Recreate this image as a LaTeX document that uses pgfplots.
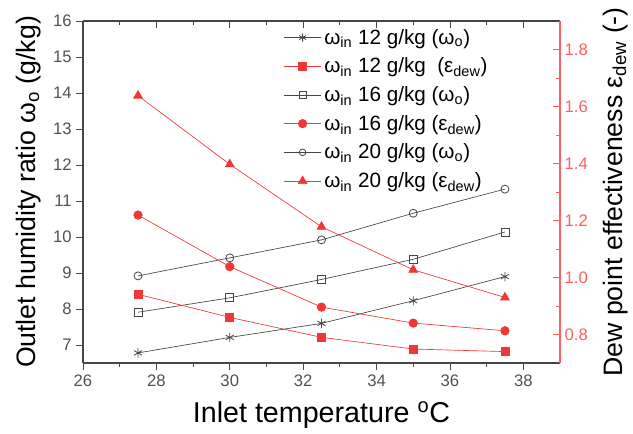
\documentclass[border=0pt]{standalone}
\usepackage{pgfplots}
\pgfplotsset{compat=1.18}
\usepackage{fontspec}
\setmainfont{Liberation Sans}
\definecolor{myred}{RGB}{240,55,55}
\definecolor{axred}{RGB}{255,95,95}
\definecolor{dgray}{RGB}{70,70,70}
\definecolor{tgray}{RGB}{85,80,80}
\begin{document}
\begin{tikzpicture}
\pgfplotsset{
  common/.style={
    width=357.75pt, height=256.5pt, scale only axis,
    xmin=26, xmax=39, xtick={26,28,...,38}, minor x tick num=1,
    /pgf/number format/assume math mode=true,
    tick label style={font=\fontsize{12.5}{14}\selectfont},
    label style={font=\fontsize{20}{23}\selectfont},
    major tick length=5pt, minor tick length=3pt,
  },
}
\begin{axis}[common, name=ax,
  axis x line*=bottom, axis y line*=left,
  ymin=6.5, ymax=16, ytick={7,8,...,16},
  tick align=outside,
  axis line style={dgray, line width=0.8pt},
  tick style={dgray, line width=0.6pt},
  ticklabel style={text=tgray},
  xlabel={Inlet temperature \textsuperscript{o}C},
  ylabel={Outlet humidity ratio ω\textsubscript{o} (g/kg)},
  xlabel style={at={(axis description cs:0.5,-0.175)}, anchor=base, font=\fontsize{21.5}{24}\selectfont},
  ylabel style={at={(axis description cs:-0.1006,0.5)}, anchor=base, rotate=0},
]
\addplot[dgray, line width=0.5pt, mark=asterisk, mark size=3.5pt, mark options={line width=0.6pt}]
  coordinates {(27.5,6.78) (30,7.21) (32.5,7.60) (35,8.23) (37.5,8.90)};
\addplot[dgray, line width=0.5pt, mark=square, mark size=3pt, mark options={fill=white, line width=0.6pt}]
  coordinates {(27.5,7.91) (30,8.31) (32.5,8.82) (35,9.38) (37.5,10.14)};
\addplot[dgray, line width=0.5pt, mark=o, mark size=3pt, mark options={fill=white, line width=0.6pt}]
  coordinates {(27.5,8.92) (30,9.42) (32.5,9.92) (35,10.66) (37.5,11.33)};
\end{axis}
\begin{axis}[common,
  axis x line*=top, axis y line*=right,
  ymin=0.7, ymax=1.9, ytick={0.8,1.0,1.2,1.4,1.6,1.8}, minor y tick num=1,
  xticklabels={},
  tick align=inside,
  x axis line style={dgray, line width=0.8pt},
  y axis line style={axred, line width=0.8pt},
  xtick style={dgray, line width=0.6pt},
  ytick style={axred, line width=0.6pt},
  yticklabel style={text=axred, /pgf/number format/.cd, fixed, fixed zerofill, precision=1},
  ylabel={Dew point effectiveness ε\textsubscript{dew} (-)},
  ylabel style={at={(axis description cs:1.13,0.5)}, anchor=base, rotate=0},
  legend style={at={(axis description cs:0.42,0.985)}, anchor=north west, draw=none, fill=none,
    font=\fontsize{15.5}{17}\selectfont, row sep=4.8pt, inner sep=0pt},
  legend cell align=left,
  legend image code/.code={\draw[mark repeat=2, mark phase=2] plot coordinates {(0pt,0pt) (14pt,0pt) (28pt,0pt)};},
]
\addlegendimage{dgray, line width=0.5pt, mark=asterisk, mark size=3pt, mark options={line width=0.6pt}}
\addlegendentry{ω\textsubscript{in} 12 g/kg (ω\textsubscript{o})}
\addplot[myred, line width=0.5pt, mark=square*, mark size=3pt, mark options={fill=myred}]
  coordinates {(27.5,0.941) (30,0.860) (32.5,0.790) (35,0.749) (37.5,0.740)};
\addlegendentry{ω\textsubscript{in} 12 g/kg \ (ε\textsubscript{dew})}
\addlegendimage{dgray, line width=0.5pt, mark=square, mark size=2.5pt, mark options={fill=white, line width=0.6pt}}
\addlegendentry{ω\textsubscript{in} 16 g/kg (ω\textsubscript{o})}
\addplot[myred, line width=0.5pt, mark=*, mark size=3.2pt, mark options={fill=myred}]
  coordinates {(27.5,1.219) (30,1.038) (32.5,0.896) (35,0.840) (37.5,0.813)};
\addlegendentry{ω\textsubscript{in} 16 g/kg (ε\textsubscript{dew})}
\addlegendimage{dgray, line width=0.5pt, mark=o, mark size=2.5pt, mark options={fill=white, line width=0.6pt}}
\addlegendentry{ω\textsubscript{in} 20 g/kg (ω\textsubscript{o})}
\addplot[myred, line width=0.5pt, mark=triangle*, mark size=3.8pt, mark options={fill=myred}]
  coordinates {(27.5,1.638) (30,1.397) (32.5,1.178) (35,1.027) (37.5,0.930)};
\addlegendentry{ω\textsubscript{in} 20 g/kg (ε\textsubscript{dew})}
\end{axis}
\path ([shift={(-62.25pt,-48.75pt)}]ax.south west) rectangle ([shift={(54.75pt,15.75pt)}]ax.north east);
\end{tikzpicture}
\end{document}
